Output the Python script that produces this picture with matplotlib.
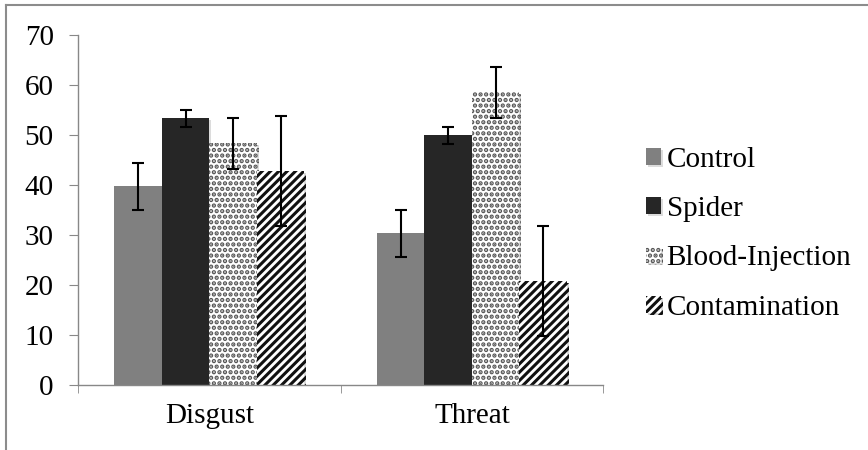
import matplotlib
matplotlib.use('Agg')
import matplotlib.pyplot as plt
import matplotlib.patheffects as pe
from matplotlib.lines import Line2D
import numpy as np

plt.rcParams['font.family'] = ['Liberation Serif', 'DejaVu Serif']
plt.rcParams['font.serif'] = ['Liberation Serif']
plt.rcParams['hatch.linewidth'] = 2.2

# data
categories = ['Disgust', 'Threat']
groups = ['Control', 'Spider', 'Blood-Injection', 'Contamination']
means = {
    'Control': [39.7, 30.3],
    'Spider': [53.3, 49.9],
    'Blood-Injection': [48.3, 58.5],
    'Contamination': [42.7, 20.7],
}
errors = {
    'Control': [4.7, 4.7],
    'Spider': [1.7, 1.7],
    'Blood-Injection': [5.1, 5.1],
    'Contamination': [11.0, 11.0],
}

styles = {
    'Control': dict(color='#808080'),
    'Spider': dict(color='#262626'),
    'Blood-Injection': dict(facecolor='white', edgecolor='#555555', hatch='...', linewidth=0),
    'Contamination': dict(facecolor='white', edgecolor='#111111', hatch='////', linewidth=0),
}

fig = plt.figure(figsize=(8.68, 4.5), dpi=100)
ax = fig.add_axes([0.0899, 0.1444, 0.605, 0.7789])

x = np.arange(len(categories))
w = 0.181
shadow = [pe.withSimplePatchShadow(offset=(1.5, -1.5), alpha=0.25, shadow_rgbFace='#777777')]
for i, g in enumerate(groups):
    pos = x + (i - 1.5) * w
    bars = ax.bar(pos, means[g], w, label=g, **styles[g])
    for b in bars:
        b.set_path_effects(shadow)
    ax.errorbar(pos, means[g], yerr=errors[g], fmt='none', ecolor='black',
                elinewidth=1.5, capsize=4.3, capthick=1.5)

ax.set_xlim(-0.5, 1.5)
ax.set_ylim(0, 70)
ax.set_yticks(range(0, 71, 10))
ax.set_xticks(x)
ax.set_xticklabels(categories)
ax.set_xticks([-0.5, 0.5, 1.5], minor=True)
for lab in ax.get_xticklabels() + ax.get_yticklabels():
    lab.set_family('Liberation Serif')

for s in ['top', 'right']:
    ax.spines[s].set_visible(False)
for s in ['left', 'bottom']:
    ax.spines[s].set_color('#888888')
    ax.spines[s].set_linewidth(1.0)

ax.tick_params(axis='y', length=6.5, color='#888888', labelsize=21, pad=11)
ax.tick_params(axis='x', which='major', length=0, labelsize=21, pad=13)
ax.tick_params(axis='x', which='minor', length=6, color='#888888')

leg = ax.legend(loc='upper left', bbox_to_anchor=(0.731, 0.70), bbox_transform=fig.transFigure,
                frameon=False, prop={'family': 'Liberation Serif', 'size': 21},
                handlelength=0.5, handleheight=0.5,
                handletextpad=0.2, labelspacing=0.8, borderaxespad=0)

# outer frame (top and left edges)
fig.add_artist(Line2D([0.007, 0.007], [0, 0.989], transform=fig.transFigure, color='#8c8c8c', lw=1.5))
fig.add_artist(Line2D([0.007, 1.0], [0.989, 0.989], transform=fig.transFigure, color='#8c8c8c', lw=1.5))

fig.savefig('out.png', dpi=100)
